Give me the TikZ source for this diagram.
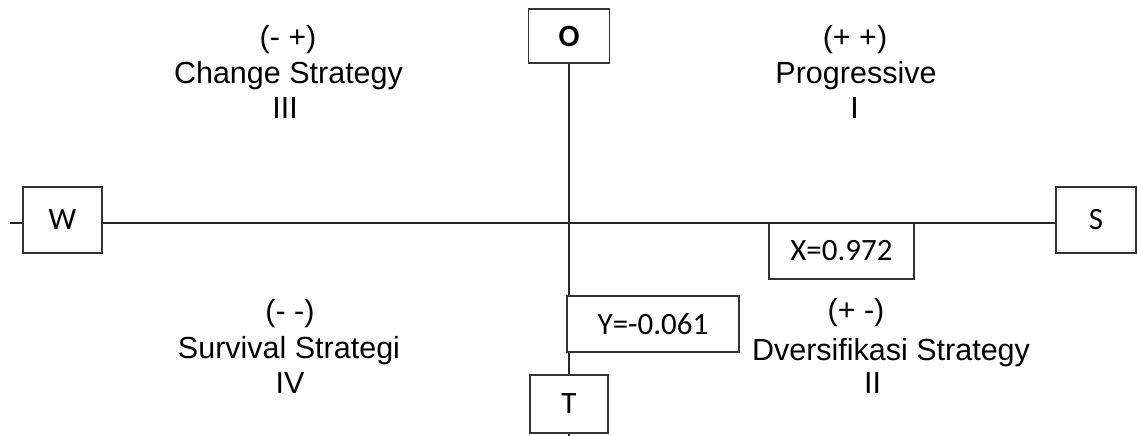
\documentclass[tikz,border=0pt]{standalone}
\usepackage{fontspec}
\setmainfont{Liberation Sans}
\newfontfamily\boxfont{Carlito}
\begin{document}
\begin{tikzpicture}[x=1pt,y=-1pt,
  axis/.style={draw=black!85, line width=1.7pt},
  box/.style={draw=black!80, line width=1.6pt, fill=white, inner sep=0pt,
    font=\boxfont\fontsize{31}{36}\selectfont},
  quad/.style={anchor=base, inner sep=0pt, font=\fontsize{30.5}{36}\selectfont}]
\useasboundingbox (0,0) rectangle (1137,436);
% boxes
\node[box, minimum width=79, minimum height=66] (W) at (62.5,220) {W};
\node[box, minimum width=80, minimum height=66] (S) at (1096,220) {S};
\node[box, minimum width=81, minimum height=54] (O) at (569,36) {\bfseries O};
\node[box, minimum width=78, minimum height=58] (T) at (569,404) {T};
\node[box, minimum width=145, minimum height=56] (X) at (841.5,251) {X=0.972};
\node[box, minimum width=172, minimum height=56] (Y) at (653,324) {Y=-0.061\hspace{40pt}};
\coordinate (wl) at (10,223);
\coordinate (sr) at (1137,223);
\coordinate (tb) at (569,436);
% axes
\draw[axis] (wl) -- (W.west |- wl);
\draw[axis] (W.east |- wl) -- (S.west |- wl);
\draw[axis] (S.east |- sr) -- (sr);
\draw[axis] (O.south) -- (O.south |- Y.north);
\draw[axis] (O.south |- Y.south) -- (T.north);
\draw[axis] (T.south) -- (tb);
% quadrant labels
\node[quad] (q3a) at (288,48) {(- +)};
\node[quad] (q3b) at (288.5,84) {Change Strategy};
\node[quad] (q3c) at (285,118) {III};
\node[quad] (q1a) at (855,48) {(+ +)};
\node[quad] (q1b) at (856,84) {Progressive};
\node[quad] (q1c) at (854.5,118) {I};
\node[quad] (q4a) at (290,321) {(- -)};
\node[quad] (q4b) at (289,358) {Survival Strategi};
\node[quad] (q4c) at (290,393) {IV};
\node[quad] (q2a) at (856,320) {(+ -)};
\node[quad] (q2b) at (891,360) {Dversifikasi Strategy};
\node[quad] (q2c) at (872.5,393) {II};
\end{tikzpicture}
\end{document}
